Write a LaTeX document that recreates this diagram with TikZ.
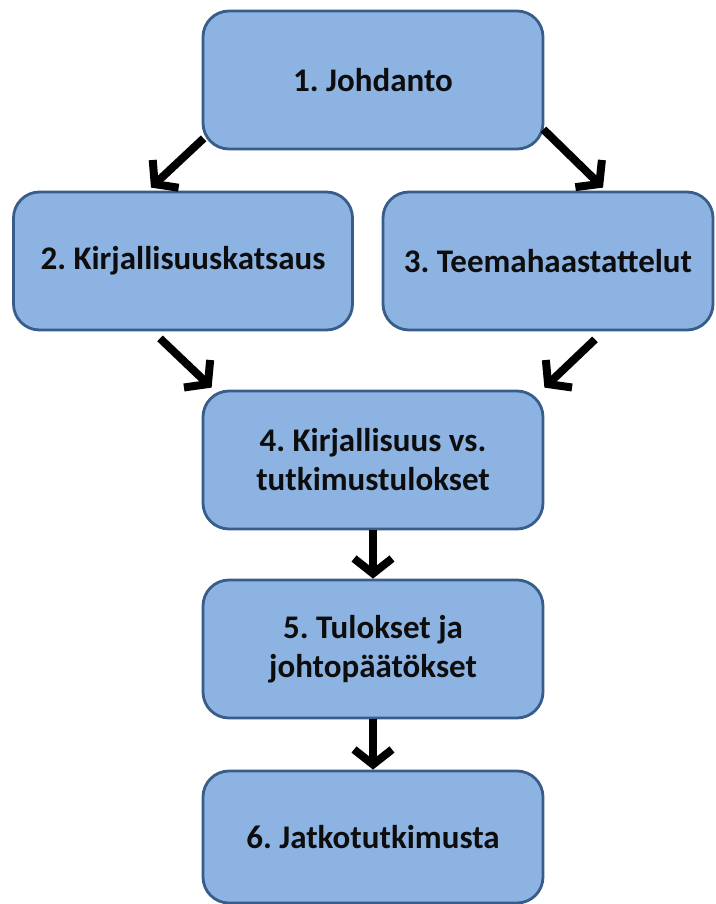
\documentclass[tikz,border=0pt]{standalone}
\usepackage{fontspec}
\setmainfont{Carlito}
\usetikzlibrary{arrows.meta}
\definecolor{boxfill}{HTML}{8DB3E2}
\definecolor{boxline}{HTML}{385D8A}
\definecolor{boxtext}{HTML}{0D0D0D}
\frenchspacing
\begin{document}
\begin{tikzpicture}[x=1pt,y=-1pt,
  stage/.style={draw=boxline, line width=2.8pt, fill=boxfill, rounded corners=26pt,
    minimum width=340pt, minimum height=138pt, align=center, inner sep=0pt,
    text=boxtext, font=\bfseries\fontsize{33}{39}\selectfont},
  flow/.style={line width=8pt, -{Straight Barb[length=15pt,width=38pt]}}]
\useasboundingbox[fill=white] (0,0) rectangle (715,904);
\node[stage] (b1) at (373,80) {1. Johdanto};
\node[stage, minimum width=339pt] (b2) at (183,261) {2. Kirjallisuuskatsaus};
\node[stage, minimum width=330pt] (b3) at (548,261) {3. Teemahaastattelut};
\node[stage] (b4) at (373,460) {4. Kirjallisuus vs.\\tutkimustulokset};
\node[stage] (b5) at (373,649) {5. Tulokset ja\\johtopäätökset};
\node[stage, minimum height=132pt] (b6) at (373,837) {6. Jatkotutkimusta};
\draw[flow] ([shift={(2,-12)}]b1.south west) -- ([shift={(-32,-3)}]b2.north);
\draw[flow] ([shift={(-1,-21)}]b1.south east) -- ([shift={(55,-3)}]b3.north);
\draw[flow] ([shift={(-23,7)}]b2.south) -- ([shift={(10,-2)}]b4.north west);
\draw[flow] ([shift={(47,8)}]b3.south) -- ([shift={(0,-2)}]b4.north east);
\draw[flow] (b4.south) -- (b5.north);
\draw[flow] (b5.south) -- (b6.north);
\end{tikzpicture}
\end{document}
